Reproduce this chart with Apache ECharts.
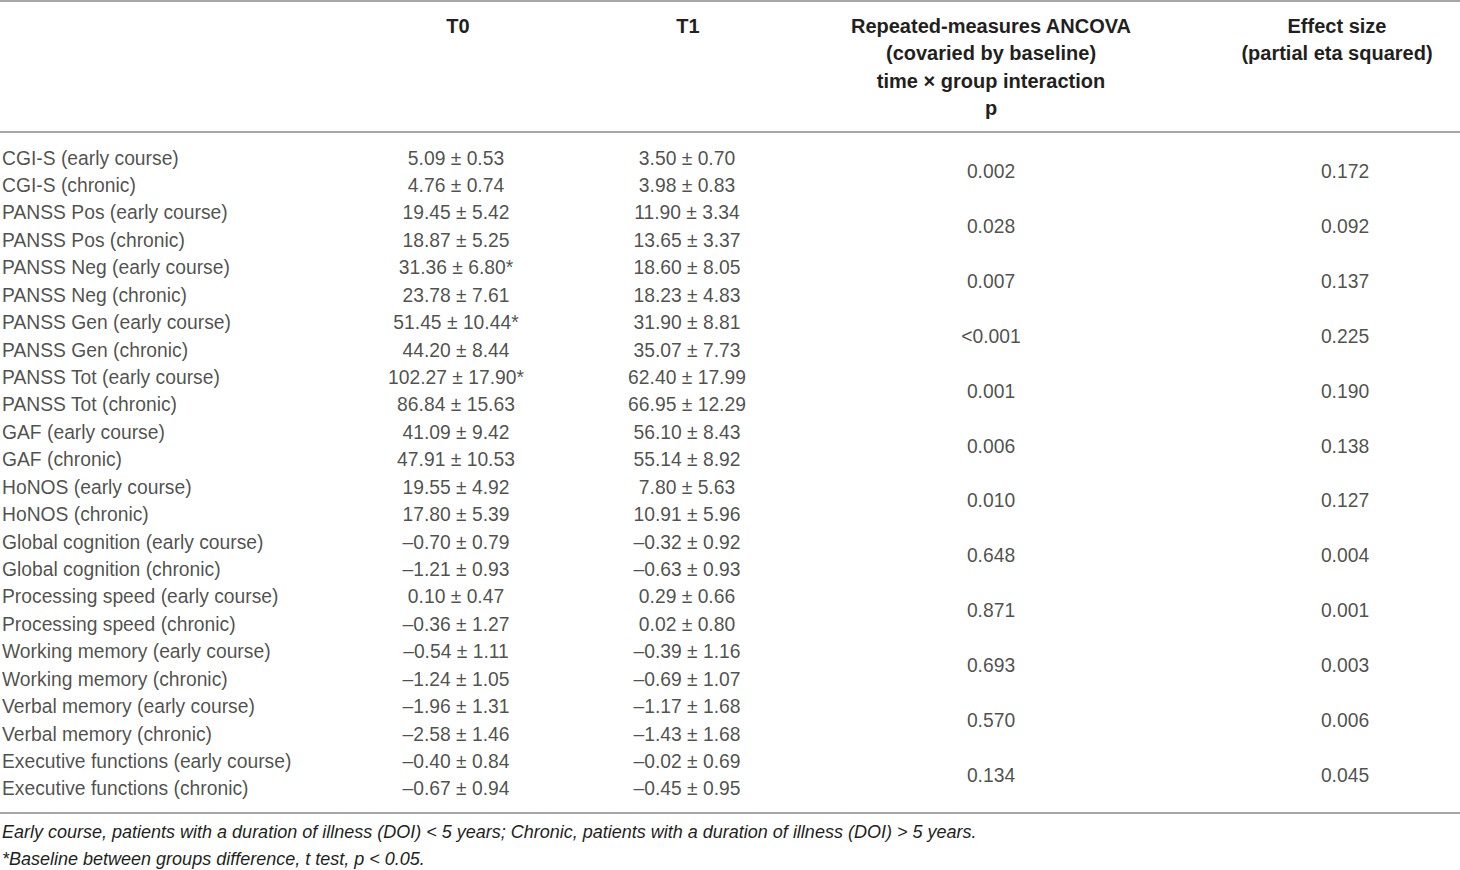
<!DOCTYPE html>
<html>
<head>
<meta charset="utf-8">
<script src="https://cdn.jsdelivr.net/npm/echarts@6/dist/echarts.min.js"></script>
<style>
  html, body { margin: 0; padding: 0; background: #fff; }
  #main { width: 1460px; height: 870px; }
</style>
</head>
<body>
<div id="main"></div>
<script>
// row labels (one per table row)
var rowLabels = [
    'CGI-S (early course)', 'CGI-S (chronic)',
    'PANSS Pos (early course)', 'PANSS Pos (chronic)',
    'PANSS Neg (early course)', 'PANSS Neg (chronic)',
    'PANSS Gen (early course)', 'PANSS Gen (chronic)',
    'PANSS Tot (early course)', 'PANSS Tot (chronic)',
    'GAF (early course)', 'GAF (chronic)',
    'HoNOS (early course)', 'HoNOS (chronic)',
    'Global cognition (early course)', 'Global cognition (chronic)',
    'Processing speed (early course)', 'Processing speed (chronic)',
    'Working memory (early course)', 'Working memory (chronic)',
    'Verbal memory (early course)', 'Verbal memory (chronic)',
    'Executive functions (early course)', 'Executive functions (chronic)'
];

// T0 mean / sd
var t0Mean = [5.09, 4.76, 19.45, 18.87, 31.36, 23.78, 51.45, 44.20, 102.27, 86.84, 41.09, 47.91,
              19.55, 17.80, -0.70, -1.21, 0.10, -0.36, -0.54, -1.24, -1.96, -2.58, -0.40, -0.67];
var t0Sd   = [0.53, 0.74, 5.42, 5.25, 6.80, 7.61, 10.44, 8.44, 17.90, 15.63, 9.42, 10.53,
              4.92, 5.39, 0.79, 0.93, 0.47, 1.27, 1.11, 1.05, 1.31, 1.46, 0.84, 0.94];
// baseline between groups difference (asterisk)
var t0Flag = [0, 0, 0, 0, 1, 0, 1, 0, 1, 0, 0, 0, 0, 0, 0, 0, 0, 0, 0, 0, 0, 0, 0, 0];

// T1 mean / sd
var t1Mean = [3.50, 3.98, 11.90, 13.65, 18.60, 18.23, 31.90, 35.07, 62.40, 66.95, 56.10, 55.14,
              7.80, 10.91, -0.32, -0.63, 0.29, 0.02, -0.39, -0.69, -1.17, -1.43, -0.02, -0.45];
var t1Sd   = [0.70, 0.83, 3.34, 3.37, 8.05, 4.83, 8.81, 7.73, 17.99, 12.29, 8.43, 8.92,
              5.63, 5.96, 0.92, 0.93, 0.66, 0.80, 1.16, 1.07, 1.68, 1.68, 0.69, 0.95];

// one value per measure (pair of rows)
var measures = ['CGI-S', 'PANSS Pos', 'PANSS Neg', 'PANSS Gen', 'PANSS Tot', 'GAF', 'HoNOS',
                'Global cognition', 'Processing speed', 'Working memory', 'Verbal memory', 'Executive functions'];
var pValues = ['0.002', '0.028', '0.007', '<0.001', '0.001', '0.006', '0.010', '0.648', '0.871', '0.693', '0.570', '0.134'];
var etaValues = [0.172, 0.092, 0.137, 0.225, 0.190, 0.138, 0.127, 0.004, 0.001, 0.003, 0.006, 0.045];

var headers = [
    'T0',
    'T1',
    'Repeated-measures ANCOVA\n(covaried by baseline)\ntime × group interaction\np',
    'Effect size\n(partial eta squared)'
];
var footnotes = [
    'Early course, patients with a duration of illness (DOI) < 5 years; Chronic, patients with a duration of illness (DOI) > 5 years.',
    '*Baseline between groups difference, t test, p < 0.05.'
];

var FONT = '"Liberation Sans", Arial, sans-serif';
var INK = '#231f20';
var RULE = '#a6a6a6';

function fmt(v) {
    return v.toFixed(2).replace('-', '\u2013');
}

var myChart = echarts.init(document.getElementById('main'), null, {renderer: 'svg'});

// body area
var bodyTop = 144.3, bodyHeight = 658.3;
// column layout: [left, width]
var cols = [[2, 420], [356, 200], [587, 200], [891, 200], [1245, 200]];

var grids = cols.map(function (c) {
    return {left: c[0], width: c[1], top: bodyTop, height: bodyHeight};
});

var xAxes = cols.map(function (c, i) {
    return {
        gridIndex: i, type: 'value', min: i === 0 ? 0 : -1, max: 1, show: false
    };
});

var yAxes = cols.map(function (c, i) {
    return {
        gridIndex: i, type: 'category', inverse: true, show: false,
        data: i < 3 ? rowLabels : measures
    };
});

var textLabel = function (align) {
    return {
        show: true,
        position: 'inside',
        align: align,
        verticalAlign: 'middle',
        color: INK,
        fontFamily: FONT,
        fontSize: 19.3,
        formatter: function (p) { return p.value[2]; }
    };
};

function cellSeries(idx, cats, texts, align) {
    return {
        type: 'scatter',
        xAxisIndex: idx,
        yAxisIndex: idx,
        symbolSize: 1,
        itemStyle: {color: 'rgba(255,255,255,0)'},
        silent: true,
        label: textLabel(align),
        data: cats.map(function (c, i) { return [0, c, texts[i]]; })
    };
}

var t0Text = t0Mean.map(function (m, i) { return fmt(m) + ' \u00b1 ' + fmt(t0Sd[i]) + (t0Flag[i] ? '*' : ''); });
var t1Text = t1Mean.map(function (m, i) { return fmt(m) + ' \u00b1 ' + fmt(t1Sd[i]); });
var etaText = etaValues.map(function (v) { return v.toFixed(3); });

var headerX = [458, 688, 991, 1337];

myChart.setOption({
    backgroundColor: '#fff',
    animation: false,
    title: headers.map(function (h, i) {
        return {
            text: h,
            left: headerX[i],
            top: 12,
            padding: 0,
            textAlign: 'center',
            textStyle: {
                color: INK, fontFamily: FONT, fontSize: 20, fontWeight: 'bold',
                lineHeight: 27.4, align: 'center'
            }
        };
    }),
    grid: grids,
    xAxis: xAxes,
    yAxis: yAxes,
    series: [
        cellSeries(0, rowLabels, rowLabels, 'left'),
        cellSeries(1, rowLabels, t0Text, 'center'),
        cellSeries(2, rowLabels, t1Text, 'center'),
        cellSeries(3, measures, pValues, 'center'),
        cellSeries(4, measures, etaText, 'center')
    ],
    graphic: [
        {type: 'line', shape: {x1: 0, y1: 1, x2: 1460, y2: 1}, style: {stroke: RULE, lineWidth: 2}},
        {type: 'line', shape: {x1: 0, y1: 132, x2: 1460, y2: 132}, style: {stroke: RULE, lineWidth: 2}},
        {type: 'line', shape: {x1: 0, y1: 813, x2: 1460, y2: 813}, style: {stroke: RULE, lineWidth: 2}},
        {
            type: 'text', left: 2, top: 823,
            style: {text: footnotes[0], fill: INK, font: 'italic 18px ' + FONT}
        },
        {
            type: 'text', left: 2, top: 850,
            style: {text: footnotes[1], fill: INK, font: 'italic 18px ' + FONT}
        }
    ]
});

window.addEventListener('resize', function () {
    myChart.resize();
});
</script>
</body>
</html>
